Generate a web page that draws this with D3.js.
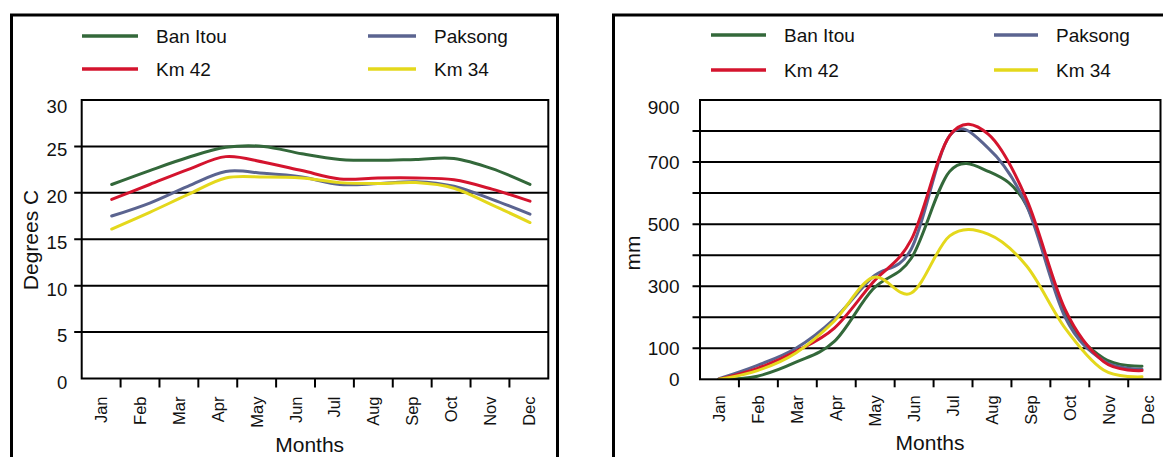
<!DOCTYPE html>
<html>
<head>
<meta charset="utf-8">
<script src="https://cdn.jsdelivr.net/npm/d3@7"></script>
<style>
  html, body { margin: 0; padding: 0; background: #fff; }
  svg { display: block; }
  text { font-family: "Liberation Sans", Arial, sans-serif; fill: #111; }
</style>
</head>
<body>
<svg id="chart" width="1163" height="457"></svg>
<script>
// Months shared by both panels
const months = ["Jan", "Feb", "Mar", "Apr", "May", "Jun", "Jul", "Aug", "Sep", "Oct", "Nov", "Dec"];

// Station names and line colours
const stations = ["Ban Itou", "Paksong", "Km 42", "Km 34"];
const stationColors = ["#33683a", "#5b6490", "#d4142e", "#e4d81c"];

// Mean monthly temperature (degrees C)
const tempBanItou = [20.9, 22.4, 23.8, 24.9, 25.0, 24.2, 23.6, 23.5, 23.6, 23.7, 22.6, 20.9];
const tempPaksong = [17.5, 18.9, 20.7, 22.3, 22.1, 21.7, 20.9, 21.0, 21.2, 20.7, 19.3, 17.7];
const tempKm42    = [19.3, 20.9, 22.5, 23.9, 23.3, 22.4, 21.5, 21.6, 21.6, 21.4, 20.4, 19.1];
const tempKm34    = [16.1, 17.9, 19.8, 21.6, 21.7, 21.6, 21.1, 21.0, 21.1, 20.5, 18.7, 16.8];

// Mean monthly rainfall (mm)
const rainBanItou = [0, 10, 55, 122, 290, 390, 670, 670, 560, 210, 68, 42];
const rainPaksong = [2, 45, 100, 195, 330, 420, 785, 745, 560, 200, 60, 32];
const rainKm42    = [0, 35, 90, 165, 312, 450, 785, 790, 580, 225, 57, 28];
const rainKm34    = [0, 28, 85, 188, 328, 278, 462, 468, 365, 165, 30, 8];

// Axis ticks
const tempTicks = [0, 5, 10, 15, 20, 25, 30];
const tempTickLabels = [0, 5, 10, 15, 20, 25, 30];
const rainTicks = [0, 100, 200, 300, 400, 500, 600, 700, 800, 900];
const rainTickLabels = [0, 100, 300, 500, 700, 900];

const svg = d3.select("#chart");

function drawPanel(cfg) {
  const g = svg.append("g").attr("transform", `translate(${cfg.left},${cfg.top})`);
  const w = cfg.width, h = cfg.height;

  const y = d3.scaleLinear().domain(cfg.yDomain).range([h, 0]);
  const band = d3.scaleBand().domain(months).range([0, cfg.bandWidth * 12]);
  const xp = d3.scalePoint().domain(months).range(cfg.pointRange);

  // outer panel border
  svg.append("rect")
    .attr("x", cfg.border[0]).attr("y", cfg.border[1])
    .attr("width", cfg.border[2]).attr("height", cfg.border[3])
    .attr("fill", "none").attr("stroke", "#000").attr("stroke-width", 3);

  // horizontal gridlines with short outer ticks
  const ymax = cfg.yDomain[1];
  g.selectAll("line.grid").data(cfg.yTicks.filter(t => t !== 0 && t !== ymax)).join("line")
    .attr("class", "grid")
    .attr("x1", -cfg.tickOut).attr("x2", w)
    .attr("y1", d => y(d)).attr("y2", d => y(d))
    .attr("stroke", "#000").attr("stroke-width", 2);

  // y tick labels
  g.selectAll("text.ytick").data(cfg.yLabels).join("text")
    .attr("class", "ytick")
    .attr("x", -cfg.labelGap)
    .attr("y", d => Math.max(y(d), cfg.topLabelMin) + cfg.labelShift)
    .attr("text-anchor", "end")
    .attr("dominant-baseline", "central")
    .style("font-size", cfg.tickFont + "px")
    .text(d => d);

  // series lines, clipped to the plot area
  const clipId = "clip-" + cfg.id;
  g.append("clipPath").attr("id", clipId)
    .append("rect").attr("x", 0).attr("y", 0).attr("width", w).attr("height", h);
  const line = d3.line()
    .x((d, i) => xp(months[i]))
    .y(d => y(d))
    .curve(cfg.curve);
  g.append("g").attr("clip-path", `url(#${clipId})`)
    .selectAll("path").data(cfg.series).join("path")
    .attr("d", d => line(d.values))
    .attr("fill", "none")
    .attr("stroke", d => d.color)
    .attr("stroke-width", 3)
    .attr("stroke-linejoin", "round")
    .attr("stroke-linecap", "round");

  // plot frame
  g.append("rect").attr("x", 0).attr("y", 0).attr("width", w).attr("height", h)
    .attr("fill", "none").attr("stroke", "#000").attr("stroke-width", 2);

  // x ticks at category boundaries
  const bounds = months.slice(1).map(m => band(m));
  g.selectAll("line.xtick").data(bounds).join("line")
    .attr("class", "xtick")
    .attr("x1", d => d).attr("x2", d => d)
    .attr("y1", h).attr("y2", h + cfg.xTickLen)
    .attr("stroke", "#000").attr("stroke-width", 2);

  // month labels
  g.selectAll("text.month").data(months).join("text")
    .attr("class", "month")
    .attr("transform", d => `translate(${band(d) + band.bandwidth() / 2},${h + cfg.monthGap}) rotate(-90)`)
    .attr("text-anchor", "end")
    .attr("dy", "0.36em")
    .style("font-size", cfg.monthFont + "px")
    .text(d => d);

  // axis titles
  svg.append("text")
    .attr("x", cfg.left + cfg.xTitle[0]).attr("y", cfg.xTitle[1])
    .attr("text-anchor", "middle")
    .style("font-size", "21px")
    .text("Months");
  svg.append("text")
    .attr("transform", `translate(${cfg.yTitle[0]},${cfg.yTitle[1]}) rotate(-90)`)
    .attr("text-anchor", "middle")
    .attr("dy", "0.36em")
    .style("font-size", "21px")
    .text(cfg.yTitleText);

  // legend: two columns, two rows
  const leg = svg.append("g");
  [0, 1, 2, 3].forEach(i => {
    const col = i % 2, row = Math.floor(i / 2);
    const lx = cfg.legendCols[col], ly = cfg.legendRows[row];
    leg.append("line")
      .attr("x1", lx).attr("x2", lx + cfg.legendLine[col])
      .attr("y1", ly).attr("y2", ly)
      .attr("stroke", stationColors[i]).attr("stroke-width", 3.5);
    leg.append("text")
      .attr("x", lx + cfg.legendLine[col] + cfg.legendGap)
      .attr("y", ly)
      .attr("dominant-baseline", "central")
      .style("font-size", "19px")
      .text(stations[i]);
  });
}

drawPanel({
  id: "temp",
  left: 81.7, top: 100, width: 466.6, height: 278.5,
  bandWidth: 466.6 / 12,
  pointRange: [30, 448.3],
  yDomain: [0, 30], yTicks: tempTicks, yLabels: tempTickLabels,
  tickOut: 7.5, labelGap: 14.5, labelShift: 3.5, topLabelMin: 2.5, tickFont: 18.5,
  xTickLen: 9, monthGap: 18, monthFont: 16.5,
  curve: d3.curveCardinal.tension(0),
  series: [
    { color: stationColors[0], values: tempBanItou },
    { color: stationColors[1], values: tempPaksong },
    { color: stationColors[2], values: tempKm42 },
    { color: stationColors[3], values: tempKm34 }
  ],
  border: [11.5, 15, 546, 460],
  xTitle: [228, 452],
  yTitle: [30, 240], yTitleText: "Degrees C",
  legendCols: [82, 368], legendRows: [36, 69], legendLine: [56, 48], legendGap: 18
});

drawPanel({
  id: "rain",
  left: 700, top: 100, width: 460.5, height: 279.3,
  bandWidth: 38.93,
  pointRange: [19, 442],
  yDomain: [0, 900], yTicks: rainTicks, yLabels: rainTickLabels,
  tickOut: 7.5, labelGap: 20.5, labelShift: 0, topLabelMin: 7, tickFont: 19,
  xTickLen: 8, monthGap: 16, monthFont: 16.5,
  curve: d3.curveCardinal.tension(0),
  series: [
    { color: stationColors[0], values: rainBanItou },
    { color: stationColors[1], values: rainPaksong },
    { color: stationColors[2], values: rainKm42 },
    { color: stationColors[3], values: rainKm34 }
  ],
  border: [613.5, 15, 600, 460],
  xTitle: [230, 450],
  yTitle: [632, 253], yTitleText: "mm",
  legendCols: [711, 994], legendRows: [35, 70], legendLine: [55, 44], legendGap: 18
});
</script>
</body>
</html>
